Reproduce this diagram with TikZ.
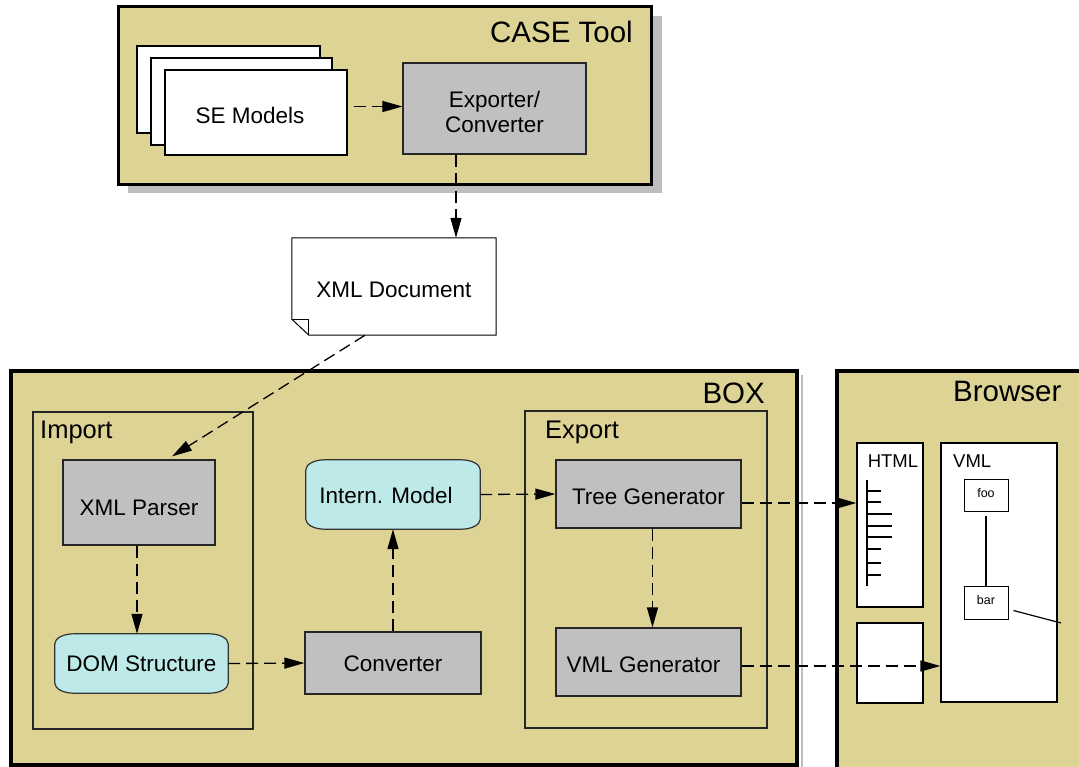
\documentclass[tikz,border=0pt]{standalone}
\usepackage{fontspec}
\setmainfont{Liberation Sans}
\usetikzlibrary{arrows.meta}
\definecolor{khaki}{RGB}{220,211,148}
\definecolor{boxgray}{RGB}{192,192,192}
\definecolor{cyanfill}{RGB}{190,233,233}
\definecolor{shadowgray}{RGB}{190,190,190}
\pgfdeclarelayer{bg}\pgfdeclarelayer{mid}\pgfsetlayers{bg,mid,main}
\newcommand\termshape[1]{%
  \begin{pgfonlayer}{mid}
  \draw[termline] ([yshift=-10pt]#1.north west) arc[start angle=180,end angle=90,x radius=19pt,y radius=10pt]
    -- ([xshift=-19pt]#1.north east) arc[start angle=90,end angle=0,x radius=19pt,y radius=10pt]
    -- ([yshift=10pt]#1.south east) arc[start angle=0,end angle=-90,x radius=19pt,y radius=10pt]
    -- ([xshift=19pt]#1.south west) arc[start angle=270,end angle=180,x radius=19pt,y radius=10pt]
    -- cycle;
  \end{pgfonlayer}}
\newcommand\dn[2]{\raisebox{-#1pt}[\height][\depth]{#2}}
\tikzset{
  container/.style={draw=black, line width=3pt, fill=khaki},
  shadowbox/.style={fill=shadowgray, draw=none},
  group/.style={draw=black!85, line width=1.2pt, inner sep=0},
  proc/.style={draw=black!85, line width=1.2pt, fill=boxgray, inner sep=0, align=center,
    font=\fontsize{22.5}{27}\selectfont},
  term/.style={inner sep=0, font=\fontsize{22.5}{27}\selectfont},
  termline/.style={draw=black!80, line width=1.2pt, fill=cyanfill},
  page/.style={draw=black, line width=1.2pt, fill=white, inner sep=0},
  title/.style={font=\fontsize{29.5}{32}\selectfont, inner sep=0},
  subtitle/.style={font=\fontsize{25.5}{28}\selectfont, inner sep=0},
  small/.style={font=\fontsize{18.5}{20}\selectfont, inner sep=0},
  tiny/.style={draw=black, line width=1pt, fill=white, inner sep=0, font=\fontsize{12.5}{14}\selectfont},
  whitebox/.style={draw=black, line width=1.2pt, fill=white, inner sep=0},
  flow/.style={dash pattern=on 12pt off 6pt, line width=1.3pt, -{Triangle[length=20pt,width=11pt]}},
  plain/.style={line width=1.2pt}
}
\begin{document}
\begin{tikzpicture}[x=1pt,y=1pt]
\useasboundingbox (0,0) rectangle (1079,-766);

\begin{pgfonlayer}{bg}
\fill[white] (0,0) rectangle (1079,-766);
% CASE Tool container
\path[shadowbox] (128,-16) rectangle (662,-193);
\draw[container] (118,-6) rectangle (651,-184);
% BOX container
\path[shadowbox] (801,-375) rectangle (803,-780);
\draw[container, line width=3.5pt] (11,-371) rectangle (797,-765);
% Browser container
\draw[container, line width=3.5pt] (837,-371) rectangle (1100,-780);
\end{pgfonlayer}

\node[title, anchor=east] (casetitle) at (633,-32) {CASE Tool};
\node[title, anchor=east] (boxtitle) at (765,-393) {BOX};
\node[title, anchor=west] (browsertitle) at (953,-391) {Browser};

% SE Models pages
\node[page, minimum width=183pt, minimum height=87pt] (page3) at (228.5,-89.5) {};
\node[page, minimum width=181pt, minimum height=87pt] (page2) at (241.5,-101.5) {};
\node[page, minimum width=182pt, minimum height=85pt, font=\fontsize{22.5}{27}\selectfont] (semodels) at (256,-112.5) {\hspace*{-12pt}\dn{3}{SE Models}};

\node[proc, minimum width=183pt, minimum height=91pt] (exporter) at (494.5,-108.5) {\dn{3.5}{\shortstack{Exporter/\\[1pt]Converter}}};

% XML Document
\node[inner sep=0, minimum width=204pt, minimum height=97pt, font=\fontsize{22.5}{27}\selectfont] (xmldoc) at (394,-286.5) {\dn{3.5}{XML Document}};
\begin{pgfonlayer}{mid}
\draw[line width=1pt, fill=white] (xmldoc.north west) -- (xmldoc.north east) -- (xmldoc.south east)
  -- ([xshift=17pt]xmldoc.south west) -- ([yshift=16pt]xmldoc.south west) -- cycle;
\draw[line width=1pt] ([yshift=16pt]xmldoc.south west) -- ([xshift=17pt,yshift=16pt]xmldoc.south west)
  -- ([xshift=17pt]xmldoc.south west);
\end{pgfonlayer}

% Import / Export groups
\node[group, minimum width=220pt, minimum height=317pt] (import) at (143,-570.5) {};
\node[subtitle, anchor=west] (importlabel) at (40,-432) {Import};
\node[group, minimum width=242pt, minimum height=317pt] (export) at (646,-569.5) {};
\node[subtitle, anchor=west] (exportlabel) at (545,-432) {Export};

\node[proc, minimum width=152pt, minimum height=85pt] (parser) at (139,-502.5) {\dn{5}{XML Parser}};
\node[term, minimum width=173pt, minimum height=59pt] (dom) at (141.5,-663.5) {\dn{0.5}{DOM Structure}};
\termshape{dom}
\node[proc, minimum width=176pt, minimum height=62pt] (conv) at (393,-663) {\dn{0.5}{Converter}};
\node[term, minimum width=174pt, minimum height=69pt] (intern) at (393,-494.5) {\hspace*{-14pt}\dn{0.5}{Intern. Model}};
\termshape{intern}
\node[proc, minimum width=185pt, minimum height=68pt] (tree) at (648.5,-494) {\dn{3}{Tree Generator}};
\node[proc, minimum width=185pt, minimum height=68pt] (vmlgen) at (648.5,-662) {\hspace*{-10pt}\dn{3}{VML Generator}};

% Browser contents
\node[whitebox, minimum width=66pt, minimum height=164pt] (html) at (890,-525) {};
\node[small, anchor=north] (htmllabel) at ([xshift=3pt,yshift=-12pt]html.north) {HTML};
\node[whitebox, minimum width=66pt, minimum height=80pt] (empty) at (890,-663) {};
\node[whitebox, minimum width=116pt, minimum height=259pt] (vml) at (999,-572.5) {};
\node[small, anchor=north west] (vmllabel) at (953,-455) {VML};
\node[tiny, minimum width=44pt, minimum height=32pt] (foo) at (986,-495) {\raisebox{5pt}{foo}};
\node[tiny, minimum width=44pt, minimum height=33pt] (bar) at (986,-602.5) {\raisebox{5pt}{bar}};
\coordinate (barend) at (1061,-623);

% HTML tree
\draw[plain] (867,-480) -- (867,-586);
\foreach \yy/\len in {491/14,502/14,514/25,526/25,537/25,549/14,563/14,575/14}
  \draw[plain] (867,-\yy) -- ++(\len,0);

% VML tree
\draw[plain] ([yshift=-4pt]foo.south) -- (bar.north);
\draw[plain] ([xshift=5pt,yshift=-8pt]bar.east) -- (barend);

% connectors
\coordinate (xa) at (456,0);
\draw[flow] ([xshift=6pt]semodels.east |- 0,-106.5) -- (exporter.west |- 0,-106.5);
\draw[flow] (exporter.south -| xa) -- (xmldoc.north -| xa);
\draw[flow] ([xshift=-29pt]xmldoc.south) -- ([xshift=33pt,yshift=3pt]parser.north);
\draw[flow] ([xshift=-2pt]parser.south) -- ([xshift=-2pt]parser.south |- dom.north);
\draw[flow] (dom.east) -- (conv.west);
\draw[flow] (conv.north) -- (intern.south);
\draw[flow] (intern.east) -- (tree.west);
\draw[flow] ([xshift=4pt]tree.south) -- ([xshift=4pt]tree.south |- vmlgen.north);
\draw[flow] ([yshift=-9pt]tree.east) -- ([yshift=-9pt]tree.east -| html.west);
\draw[flow] ([yshift=-4pt]vmlgen.east) -- ([yshift=-4pt]vmlgen.east -| vml.west);
\end{tikzpicture}
\end{document}
